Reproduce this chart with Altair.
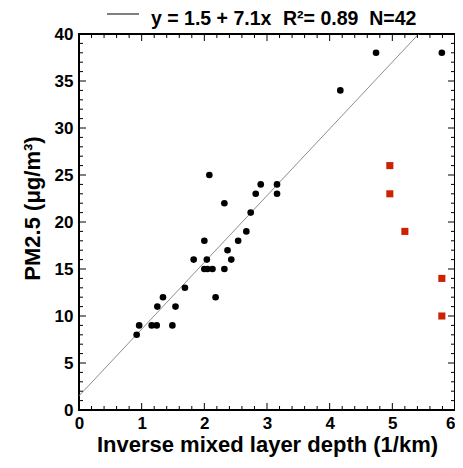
import altair as alt
import pandas as pd

# Data
black_x = [0.92, 0.96, 1.16, 1.24, 1.49, 1.25, 1.34, 1.54, 1.69, 2.18, 1.83, 2.04, 2.00, 2.05, 2.13, 2.32,
           2.00, 2.08, 2.32, 2.37, 2.43, 2.54, 2.67, 2.74, 2.82, 2.90, 3.16, 3.16, 4.17, 4.74, 5.79]
black_y = [8, 9, 9, 9, 9, 11, 12, 11, 13, 12, 16, 16, 15, 15, 15, 15,
           18, 25, 22, 17, 16, 18, 19, 21, 23, 24, 24, 23, 34, 38, 38]
red_x = [4.96, 4.96, 5.20, 5.79, 5.79]
red_y = [26, 23, 19, 14, 10]
fit_x = [0.0, 5.42]
fit_y = [1.5, 40.0]
legend_eq = ["y = 1.5 + 7.1x"]
legend_stats = ["R\u00b2= 0.89\u00a0\u00a0N=42"]

x_ticks = [0, 1, 2, 3, 4, 5, 6]
y_ticks = [0, 5, 10, 15, 20, 25, 30, 35, 40]
x_minor = [round(i * 0.2, 1) for i in range(31) if i % 5]
y_minor = [i for i in range(41) if i % 5]

W = H = 376
FONT = "Liberation Sans"
MAJ, MIN = 7, 4

xs = alt.Scale(domain=[0, 6], nice=False, zero=False)
ys = alt.Scale(domain=[0, 40], nice=False, zero=False)

X_AXIS = alt.Axis(values=x_ticks, title="Inverse mixed layer depth (1/km)", labelPadding=5, titlePadding=3,
                  labelAlign={"expr": "datum.value == 6 ? 'right' : 'center'"})
Y_AXIS = alt.Axis(values=y_ticks, title="PM2.5 (\u03bcg/m\u00b3)", labelPadding=6,
                  titleX=-47, titleY=174, titleAlign="center", titleBaseline="middle")

pts = alt.Chart(pd.DataFrame({"x": black_x, "y": black_y})).mark_circle(
    size=44, color="black", opacity=1
).encode(x=alt.X("x:Q", scale=xs, axis=X_AXIS), y=alt.Y("y:Q", scale=ys, axis=Y_AXIS))

reds = alt.Chart(pd.DataFrame({"x": red_x, "y": red_y})).mark_square(
    size=50, color="#cc2200", opacity=1
).encode(x=alt.X("x:Q", scale=xs, axis=X_AXIS), y=alt.Y("y:Q", scale=ys, axis=Y_AXIS))

fit = alt.Chart(pd.DataFrame({"x": fit_x, "y": fit_y})).mark_line(
    color="#808080", strokeWidth=0.9
).encode(x=alt.X("x:Q", scale=xs, axis=X_AXIS), y=alt.Y("y:Q", scale=ys, axis=Y_AXIS))


def xtick(vals, y0, y1):
    return alt.Chart(pd.DataFrame({"x": vals})).mark_rule(color="black", strokeWidth=1).encode(
        x=alt.X("x:Q", scale=xs, axis=X_AXIS), y=alt.value(y0), y2=alt.value(y1))


def ytick(vals, x0, x1):
    return alt.Chart(pd.DataFrame({"y": vals})).mark_rule(color="black", strokeWidth=1).encode(
        y=alt.Y("y:Q", scale=ys, axis=Y_AXIS), x=alt.value(x0), x2=alt.value(x1))


ticks = [
    xtick(x_ticks, H, H - MAJ), xtick(x_minor, H, H - MIN),
    xtick(x_ticks, 0, MAJ), xtick(x_minor, 0, MIN),
    ytick(y_ticks, 0, MAJ), ytick(y_minor, 0, MIN),
    ytick(y_ticks, W, W - MAJ), ytick(y_minor, W, W - MIN),
]

leg_line = alt.Chart(pd.DataFrame({"t": legend_eq})).mark_rule(color="black", strokeWidth=1).encode(
    x=alt.value(28), x2=alt.value(60), y=alt.value(-20))
leg_eq = alt.Chart(pd.DataFrame({"t": legend_eq})).mark_text(
    font=FONT, fontSize=19.5, fontWeight="bold", color="black", align="left", baseline="alphabetic"
).encode(x=alt.value(72), y=alt.value(-9.5), text="t:N")
leg_stats = alt.Chart(pd.DataFrame({"t": legend_stats})).mark_text(
    font=FONT, fontSize=19.5, fontWeight="bold", color="black", align="left", baseline="alphabetic"
).encode(x=alt.value(204), y=alt.value(-9.5), text="t:N")

chart = alt.layer(fit, *ticks, pts, reds, leg_line, leg_eq, leg_stats).properties(
    width=W, height=H,
    padding={"left": 71, "top": 26, "right": 0, "bottom": 50},
    autosize=alt.AutoSizeParams(type="none"),
).configure_view(
    stroke="black", strokeWidth=2
).configure_axis(
    ticks=False, domain=False, grid=False, labelFlush=False,
    labelFont=FONT, labelFontSize=17, labelFontWeight="bold", labelColor="black",
    titleFont=FONT, titleFontSize=22, titleFontWeight="bold", titleColor="black",
)

chart.save("out.html", embed_options={"renderer": "svg", "actions": False})
